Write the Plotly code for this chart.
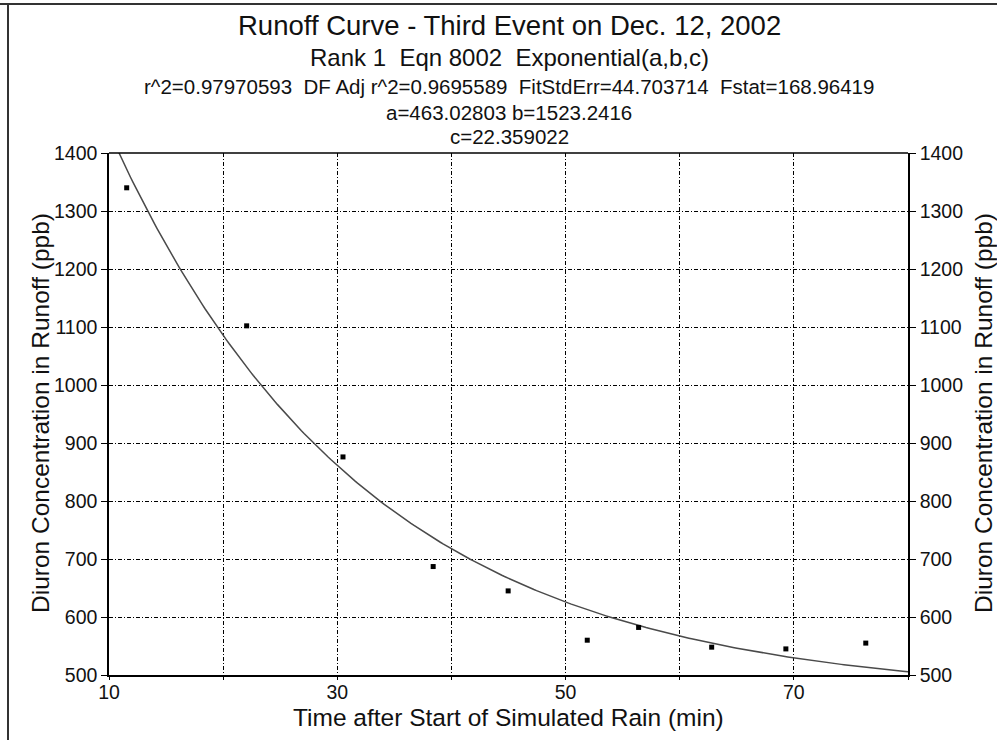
import numpy as np
import plotly.graph_objects as go

# Observed data
time_min = [11.55, 22.06, 30.5, 38.4, 44.97, 51.9, 56.4, 62.8, 69.3, 76.3]
diuron_ppb = [1340, 1102, 876, 687, 645, 560, 582, 548, 545, 555]

# Fit parameters (from chart text)
a, b, c = 463.02803, 1523.2416, 22.359022
fit_x = np.linspace(10, 80, 300)
fit_y = a + b * np.exp(-fit_x / c)

x_ticks = [10, 20, 30, 40, 50, 60, 70, 80]
x_ticktext = ["10", "", "30", "", "50", "", "70", ""]
y_ticks = [500, 600, 700, 800, 900, 1000, 1100, 1200, 1300, 1400]

FONT = "Arial, Liberation Sans, sans-serif"
TXT = "#111111"

W, H = 997, 740
L, R, T, B = 109, 89, 153, 65
PW, PH = W - L - R, H - T - B


def px(xp):
    return (xp - L) / PW


def py(yp):
    return 1 - (yp - T) / PH


fig = go.Figure()
fig.add_trace(go.Scatter(x=fit_x, y=fit_y, mode="lines",
                         line=dict(color="#4a4a4a", width=1.5), showlegend=False))
fig.add_trace(go.Scatter(x=time_min, y=diuron_ppb, mode="markers",
                         marker=dict(symbol="square", size=5, color="black"),
                         showlegend=False, cliponaxis=False))
fig.add_trace(go.Scatter(x=[10, 80], y=[500, 1400], yaxis="y2", mode="markers",
                         marker=dict(opacity=0), showlegend=False, hoverinfo="skip"))

grid = dict(showgrid=True, gridcolor="black", griddash="4px,2px,1px,2px", gridwidth=1)
axis_common = dict(showline=True, linecolor="black", linewidth=1.5, mirror=False,
                   ticks="outside", tickcolor="black", automargin=False, zeroline=False,
                   tickfont=dict(family=FONT, size=19.5, color=TXT))

fig.update_layout(
    width=W, height=H,
    margin=dict(l=L, r=R, t=T, b=B),
    paper_bgcolor="white", plot_bgcolor="white",
    xaxis=dict(range=[10, 80], tickvals=x_ticks, ticktext=x_ticktext, ticklen=3,
               ticklabelstandoff=-4, **grid, **axis_common),
    yaxis=dict(range=[500, 1400], tickvals=y_ticks, ticklen=6, **grid, **axis_common),
    yaxis2=dict(range=[500, 1400], tickvals=y_ticks, overlaying="y", side="right",
                showgrid=False, ticklen=6, **axis_common),
)

# top border of plot
fig.add_shape(type="line", xref="paper", yref="paper", x0=0, x1=1, y0=1, y1=1,
              line=dict(color="black", width=1.5))
# page frame
fig.add_shape(type="line", xref="paper", yref="paper", x0=px(0), x1=px(W),
              y0=py(4), y1=py(4), line=dict(color="#333333", width=2))
fig.add_shape(type="line", xref="paper", yref="paper", x0=px(8), x1=px(8),
              y0=py(H), y1=py(4), line=dict(color="#333333", width=2))

texts = [
    ("Runoff Curve - Third Event on Dec. 12, 2002", 26, 27.5),
    ("Rank 1  Eqn 8002  Exponential(a,b,c)", 57, 24),
    ("r^2=0.97970593  DF Adj r^2=0.9695589  FitStdErr=44.703714  Fstat=168.96419", 86, 20.5),
    ("a=463.02803 b=1523.2416", 112, 20.5),
    ("c=22.359022", 137, 20.5),
]
for t, ypix, sz in texts:
    fig.add_annotation(text=t.replace("  ", "&nbsp; "), xref="paper", yref="paper",
                       x=px(509), y=py(ypix),
                       showarrow=False, xanchor="center", yanchor="middle",
                       font=dict(family=FONT, size=sz, color=TXT))

# axis titles
fig.add_annotation(text="Time after Start of Simulated Rain (min)", xref="paper", yref="paper",
                   x=px(508), y=py(717), showarrow=False, xanchor="center", yanchor="middle",
                   font=dict(family=FONT, size=24.5, color=TXT))
for xp in (40, 983):
    fig.add_annotation(text="Diuron Concentration in Runoff (ppb)", xref="paper", yref="paper",
                       x=px(xp), y=py(413), showarrow=False, textangle=-90,
                       xanchor="center", yanchor="middle",
                       font=dict(family=FONT, size=24.5, color=TXT))

fig.write_html("out.html", config={"displayModeBar": False},
               post_script="document.body.style.margin='0';document.body.style.overflow='hidden';")
